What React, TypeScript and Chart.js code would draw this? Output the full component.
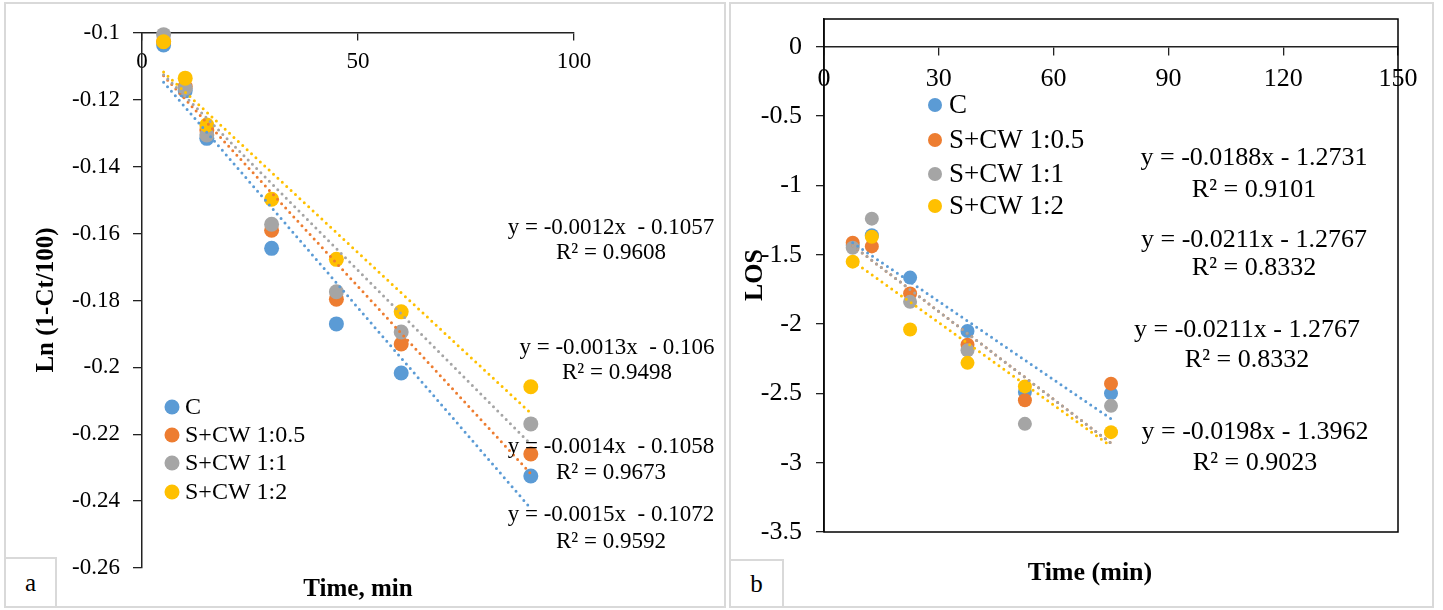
import React, { useEffect, useRef } from 'react';
import { Chart, registerables } from 'chart.js';

Chart.register(...registerables);

const FONT = "'Liberation Serif', 'Times New Roman', serif";

// ---------- shared series ----------
const seriesNames = ['C', 'S+CW 1:0.5', 'S+CW 1:1', 'S+CW 1:2'];
const seriesColors = ['#5B9BD5', '#ED7D31', '#A5A5A5', '#FFC000'];

// ---------- panel a : Ln(1-Ct/100) vs time ----------
const timeA = [5, 10, 15, 30, 45, 60, 90];
const lnC = [-0.1036, -0.1173, -0.1315, -0.1644, -0.187, -0.2017, -0.2325];
const lnS05 = [-0.1025, -0.116, -0.129, -0.159, -0.1796, -0.193, -0.2259];
const lnS1 = [-0.1005, -0.1165, -0.1305, -0.1572, -0.1774, -0.1894, -0.2169];
const lnS2 = [-0.1026, -0.1135, -0.1275, -0.1497, -0.1677, -0.1834, -0.2058];
const slopeA = [-0.0015, -0.0014, -0.0013, -0.0012];
const interceptA = [-0.1072, -0.1058, -0.106, -0.1057];
const eqLabelsA = ['y = -0.0015x  - 0.1072', 'y = -0.0014x  - 0.1058', 'y = -0.0013x  - 0.106', 'y = -0.0012x  - 0.1057'];
const r2LabelsA = ['R\u00B2 = 0.9592', 'R\u00B2 = 0.9673', 'R\u00B2 = 0.9498', 'R\u00B2 = 0.9608'];
const xTicksA = [0, 50, 100];
const yTicksA = [-0.26, -0.24, -0.22, -0.2, -0.18, -0.16, -0.14, -0.12, -0.1];

// ---------- panel b : LOS vs time ----------
const timeB = [7.5, 12.5, 22.5, 37.5, 52.5, 75];
const losC = [-1.43, -1.36, -1.665, -2.05, -2.49, -2.5];
const losS05 = [-1.414, -1.44, -1.78, -2.15, -2.55, -2.43];
const losS1 = [-1.45, -1.24, -1.84, -2.19, -2.72, -2.59];
const losS2 = [-1.55, -1.37, -2.04, -2.28, -2.45, -2.78];
const slopeB = [-0.0188, -0.0211, -0.0211, -0.0198];
const interceptB = [-1.2731, -1.2767, -1.2767, -1.3962];
const eqLabelsB = ['y = -0.0188x - 1.2731', 'y = -0.0211x - 1.2767', 'y = -0.0211x - 1.2767', 'y = -0.0198x - 1.3962'];
const r2LabelsB = ['R\u00B2 = 0.9101', 'R\u00B2 = 0.8332', 'R\u00B2 = 0.8332', 'R\u00B2 = 0.9023'];
const xTicksB = [0, 30, 60, 90, 120, 150];
const yTicksB = [-3.5, -3, -2.5, -2, -1.5, -1, -0.5, 0];

type PanelSpec = {
  width: number;
  height: number;
  padding: { left: number; top: number; right: number; bottom: number };
  yWidth: number;
  time: number[];
  values: number[][];
  slopes: number[];
  intercepts: number[];
  eqLabels: string[];
  r2Labels: string[];
  xTicks: number[];
  yTicks: number[];
  xMin: number; xMax: number; yMin: number; yMax: number;
  xAxisAt: number;
  tickFont: number;
  yTickPad: number;
  xTickPad: number;
  yTickLen: number;
  xTickLen: number;
  pointRadius: number;
  frame: boolean;
  yTitle: string; yTitlePos: [number, number];
  xTitle: string; xTitlePos: [number, number];
  titleFont: number;
  legend: { mx: number; tx: number; rows: number[]; font: number; r: number };
  eqPos: { x: number; y1: number; y2: number }[];
  eqFont: number;
};

function fmt(v: number) {
  return String(+v.toFixed(4));
}

function buildConfig(p: PanelSpec): any {
  const markerSets = p.values.map((vals, i) => ({
    type: 'scatter',
    label: seriesNames[i],
    data: p.time.map((t, k) => ({ x: t, y: vals[k] })),
    backgroundColor: seriesColors[i],
    borderWidth: 0,
    pointRadius: p.pointRadius,
    showLine: false,
    clip: false,
    order: 20 - i,
  }));
  const t0 = p.time[0];
  const t1 = p.time[p.time.length - 1];
  const trendSets = p.slopes.map((m, i) => ({
    type: 'line',
    label: seriesNames[i] + ' trend',
    data: [t0, t1].map((t) => ({ x: t, y: m * t + p.intercepts[i] })),
    borderColor: seriesColors[i],
    borderWidth: 3,
    borderDash: [0, 6],
    borderCapStyle: 'round',
    pointRadius: 0,
    fill: false,
    clip: false,
    order: 10 - i,
  }));

  const overlay = {
    id: 'overlay',
    afterDraw(chart: any) {
      const ctx = chart.ctx as CanvasRenderingContext2D;
      const ca = chart.chartArea;
      ctx.save();
      if (p.frame) {
        ctx.strokeStyle = '#000';
        ctx.lineWidth = 1.5;
        ctx.strokeRect(ca.left, ca.top, ca.right - ca.left, ca.bottom - ca.top);
      }
      ctx.fillStyle = '#000';
      ctx.textBaseline = 'middle';
      // axis titles
      ctx.font = `bold ${p.titleFont}px ${FONT}`;
      ctx.textAlign = 'center';
      ctx.fillText(p.xTitle, p.xTitlePos[0], p.xTitlePos[1]);
      ctx.save();
      ctx.translate(p.yTitlePos[0], p.yTitlePos[1]);
      ctx.rotate(-Math.PI / 2);
      ctx.fillText(p.yTitle, 0, 0);
      ctx.restore();
      // trendline equations
      ctx.font = `${p.eqFont}px ${FONT}`;
      ctx.textAlign = 'center';
      p.eqPos.forEach((pos, i) => {
        ctx.fillText(p.eqLabels[i], pos.x, pos.y1);
        ctx.fillText(p.r2Labels[i], pos.x, pos.y2);
      });
      // legend
      const lg = p.legend;
      ctx.font = `${lg.font}px ${FONT}`;
      ctx.textAlign = 'left';
      seriesNames.forEach((name, i) => {
        ctx.fillStyle = seriesColors[i];
        ctx.beginPath();
        ctx.arc(lg.mx, lg.rows[i], lg.r, 0, Math.PI * 2);
        ctx.fill();
        ctx.fillStyle = '#000';
        ctx.fillText(name, lg.tx, lg.rows[i] + 1);
      });
      ctx.restore();
    },
  };

  return {
    type: 'scatter',
    data: { datasets: [...markerSets, ...trendSets] },
    options: {
      responsive: false,
      animation: false,
      events: [],
      layout: { padding: p.padding },
      plugins: { legend: { display: false }, tooltip: { enabled: false } },
      scales: {
        x: {
          type: 'linear',
          position: { y: p.xAxisAt },
          min: p.xMin,
          max: p.xMax,
          afterBuildTicks: (s: any) => {
            s.ticks = p.xTicks.map((v) => ({ value: v }));
          },
          afterFit: (s: any) => {
            s.paddingLeft = 0;
            s.paddingRight = 0;
          },
          ticks: {
            font: { family: FONT, size: p.tickFont },
            color: '#000',
            padding: p.xTickPad,
            maxRotation: 0,
            autoSkip: false,
            callback: (v: any) => fmt(Number(v)),
          },
          grid: { display: true, drawOnChartArea: false, drawTicks: true, tickLength: p.xTickLen, color: '#222', lineWidth: 1.3 },
          border: { display: true, color: '#222', width: 1.5 },
        },
        y: {
          type: 'linear',
          position: 'left',
          min: p.yMin,
          max: p.yMax,
          afterBuildTicks: (s: any) => {
            s.ticks = p.yTicks.map((v) => ({ value: v }));
          },
          afterFit: (s: any) => {
            s.width = p.yWidth;
            s.paddingTop = 0;
            s.paddingBottom = 0;
          },
          ticks: {
            font: { family: FONT, size: p.tickFont },
            color: '#000',
            padding: p.yTickPad,
            autoSkip: false,
            callback: (v: any) => fmt(Number(v)),
          },
          grid: { display: true, drawOnChartArea: false, drawTicks: true, tickLength: p.yTickLen, color: '#222', lineWidth: 1.3 },
          border: { display: true, color: '#222', width: 1.5 },
        },
      },
    },
    plugins: [overlay],
  };
}

const panelA: PanelSpec = {
  width: 722,
  height: 610,
  padding: { left: 0, top: 33, right: 148, bottom: 42 },
  yWidth: 142,
  time: timeA,
  values: [lnC, lnS05, lnS1, lnS2],
  slopes: slopeA,
  intercepts: interceptA,
  eqLabels: eqLabelsA,
  r2Labels: r2LabelsA,
  xTicks: xTicksA,
  yTicks: yTicksA,
  xMin: 0, xMax: 100, yMin: -0.26, yMax: -0.1,
  xAxisAt: -0.1,
  tickFont: 23,
  yTickPad: 13,
  xTickPad: 8,
  yTickLen: 9,
  xTickLen: 7,
  pointRadius: 7.5,
  frame: false,
  yTitle: 'Ln (1-Ct/100)', yTitlePos: [47, 300],
  xTitle: 'Time, min', xTitlePos: [358, 590],
  titleFont: 25,
  legend: { mx: 172, tx: 185, rows: [407, 435, 463, 492], font: 24, r: 7.5 },
  eqPos: [
    { x: 611, y1: 515, y2: 542 },
    { x: 611, y1: 447, y2: 473 },
    { x: 617, y1: 348, y2: 373 },
    { x: 611, y1: 228, y2: 253 },
  ],
  eqFont: 23,
};

const panelB: PanelSpec = {
  width: 721,
  height: 610,
  padding: { left: 0, top: 19, right: 45, bottom: 78 },
  yWidth: 102,
  time: timeB,
  values: [losC, losS05, losS1, losS2],
  slopes: slopeB,
  intercepts: interceptB,
  eqLabels: eqLabelsB,
  r2Labels: r2LabelsB,
  xTicks: xTicksB,
  yTicks: yTicksB,
  xMin: 0, xMax: 150, yMin: -3.5, yMax: 0.2,
  xAxisAt: 0,
  tickFont: 26,
  yTickPad: 14,
  xTickPad: 9,
  yTickLen: 8,
  xTickLen: 8,
  pointRadius: 7,
  frame: true,
  yTitle: 'LOS', yTitlePos: [33, 275],
  xTitle: 'Time (min)', xTitlePos: [368, 573],
  titleFont: 26,
  legend: { mx: 213, tx: 227, rows: [105, 140, 174, 206], font: 27, r: 7 },
  eqPos: [
    { x: 532, y1: 158, y2: 190 },
    { x: 532, y1: 240, y2: 268 },
    { x: 525, y1: 330, y2: 360 },
    { x: 533, y1: 432, y2: 463 },
  ],
  eqFont: 26,
};

function ChartCanvas({ spec, left }: { spec: PanelSpec; left: number }) {
  const ref = useRef<HTMLCanvasElement>(null);
  useEffect(() => {
    const chart = new Chart(ref.current as HTMLCanvasElement, buildConfig(spec));
    return () => chart.destroy();
  }, [spec]);
  return (
    <canvas
      ref={ref}
      width={spec.width}
      height={spec.height}
      style={{ position: 'absolute', left, top: 0, width: spec.width, height: spec.height, display: 'block' }}
    />
  );
}

const BORDER = '2px solid #d9d9d9';

export default function App() {
  return (
    <div style={{ position: 'absolute', left: 0, top: 0, width: 1443, height: 610, background: '#fff', overflow: 'hidden' }}>
      <div style={{ position: 'absolute', left: 4, top: 2, width: 722, height: 606, border: BORDER, boxSizing: 'border-box' }} />
      <div style={{ position: 'absolute', left: 729, top: 2, width: 705, height: 606, border: BORDER, boxSizing: 'border-box' }} />
      <div style={{ position: 'absolute', left: 4, top: 557, width: 53, height: 51, border: BORDER, boxSizing: 'border-box', display: 'flex', alignItems: 'center', justifyContent: 'center', fontFamily: FONT, fontSize: 25, color: '#000' }}>a</div>
      <div style={{ position: 'absolute', left: 729, top: 559, width: 55, height: 49, border: BORDER, boxSizing: 'border-box', display: 'flex', alignItems: 'center', justifyContent: 'center', fontFamily: FONT, fontSize: 25, color: '#000' }}>b</div>
      <ChartCanvas spec={panelA} left={0} />
      <ChartCanvas spec={panelB} left={722} />
    </div>
  );
}
